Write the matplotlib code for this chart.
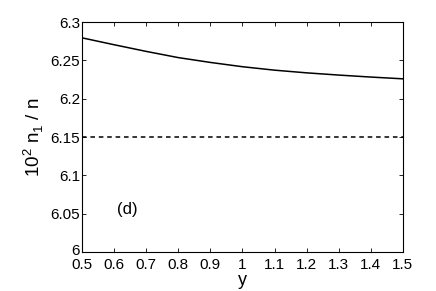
import matplotlib
matplotlib.use("Agg")
import matplotlib.pyplot as plt
from matplotlib.transforms import ScaledTranslation

# valores (d)
y_vals = [0.5, 0.6, 0.7, 0.8, 0.9, 1.0, 1.1, 1.2, 1.3, 1.4, 1.5]
ratio = [6.2795, 6.2705, 6.2618, 6.2537, 6.2474, 6.2418, 6.2373, 6.2338, 6.2309, 6.2283, 6.2260]
ref_level = 6.15
x_ticks = [0.5, 0.6, 0.7, 0.8, 0.9, 1, 1.1, 1.2, 1.3, 1.4, 1.5]
x_labels = ['0.5', '0.6', '0.7', '0.8', '0.9', '1', '1.1', '1.2', '1.3', '1.4', '1.5']
y_ticks = [6, 6.05, 6.1, 6.15, 6.2, 6.25, 6.3]
y_labels = ['6', '6.05', '6.1', '6.15', '6.2', '6.25', '6.3']

plt.rcParams['font.family'] = ['Liberation Sans', 'DejaVu Sans']
plt.rcParams['mathtext.fontset'] = 'custom'
plt.rcParams['mathtext.rm'] = 'Liberation Sans'

fig = plt.figure(figsize=(4.36, 2.91), dpi=100)
ax = fig.add_axes([0.188, 0.134, 0.736, 0.790])

ax.plot(y_vals, ratio, color='black', lw=1.1)
ax.axhline(ref_level, color='black', lw=1.1, ls=(0, (3, 2.5)))

ax.set_xlim(0.5, 1.5)
ax.set_ylim(6, 6.3)
ax.set_xticks(x_ticks)
ax.set_xticklabels(x_labels)
ax.set_yticks(y_ticks)
ax.set_yticklabels(y_labels)
ax.tick_params(direction='in', top=True, right=True, labelsize=11, length=3, width=0.6)
ax.tick_params(axis='x', pad=4.5)
ax.tick_params(axis='y', pad=1.5)
# el "6" apenas mas arriba para que no pise al "0.5"
lab6 = ax.get_yticklabels()[0]
lab6.set_transform(lab6.get_transform() + ScaledTranslation(0, 1.5 / 72, fig.dpi_scale_trans))
for s in ax.spines.values():
    s.set_linewidth(0.8)

ax.set_xlabel('y', fontsize=13, labelpad=0)
ax.set_ylabel(r'10$^2$ n$_1$ / n', fontsize=13.5, labelpad=3)
ax.text(0.64, 6.055, '(d)', fontsize=12, ha='center', va='center')

fig.savefig('out.png', dpi=100)
